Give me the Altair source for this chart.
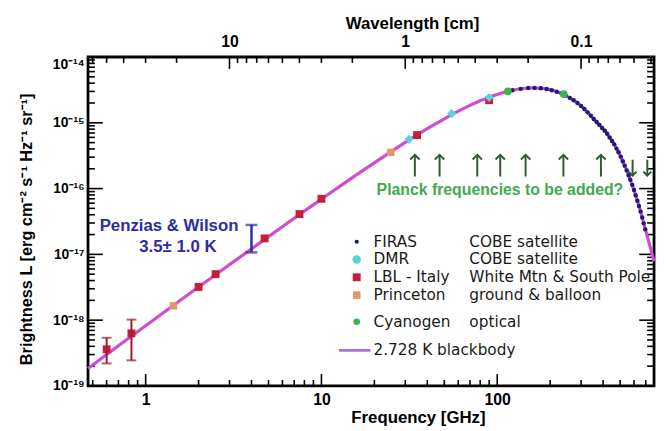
import json
import altair as alt
import pandas as pd

# ---------------- values ----------------
# 2.728 K blackbody curve (frequency in GHz, brightness L)
bb_freq = [0.47, 0.6, 0.8, 1, 1.5, 2, 3, 5, 7, 10,
           15, 20, 30, 40, 50, 60, 70, 80, 90, 100,
           110, 120, 140, 160, 180, 200, 225, 250, 275, 300,
           325, 350, 375, 400, 425, 450, 475, 500, 525, 550,
           575, 600, 625, 650, 675, 700, 725, 750, 780]
bb_L = [1.84e-19, 3.0e-19, 5.3e-19, 8.2e-19, 1.82e-18, 3.19e-18, 6.98e-18, 1.86e-17, 3.55e-17, 6.9e-17,
        1.47e-16, 2.46e-16, 5.04e-16, 8.13e-16, 1.15e-15, 1.50e-15, 1.84e-15, 2.16e-15, 2.45e-15, 2.70e-15,
        2.91e-15, 3.09e-15, 3.32e-15, 3.39e-15, 3.33e-15, 3.17e-15, 2.88e-15, 2.53e-15, 2.16e-15, 1.80e-15,
        1.47e-15, 1.18e-15, 9.75e-16, 8.1e-16, 6.65e-16, 5.3e-16, 4.15e-16, 3.2e-16, 2.39e-16, 1.77e-16,
        1.3e-16, 9.5e-17, 6.7e-17, 4.75e-17, 3.25e-17, 2.27e-17, 1.62e-17, 1.16e-17, 7.8e-18]

# FIRAS (COBE satellite)
firas_freq = [122, 136, 150, 163, 177, 191, 204, 218, 232, 245,
              259, 272, 286, 300, 313, 327, 341, 354, 368, 381,
              395, 409, 422, 436, 450, 463, 477, 490, 504, 518,
              531, 545, 559, 572, 586, 600, 613, 627, 640, 654,
              668, 681, 695]
firas_L = [3.12e-15, 3.28e-15, 3.37e-15, 3.39e-15, 3.34e-15, 3.26e-15, 3.13e-15, 2.97e-15, 2.78e-15, 2.60e-15,
           2.39e-15, 2.20e-15, 2.00e-15, 1.80e-15, 1.62e-15, 1.44e-15, 1.28e-15, 1.14e-15, 1.03e-15, 9.3e-16,
           8.35e-16, 7.6e-16, 6.8e-16, 6.0e-16, 5.3e-16, 4.7e-16, 4.05e-16, 3.57e-16, 3.06e-16, 2.6e-16,
           2.23e-16, 1.89e-16, 1.59e-16, 1.36e-16, 1.14e-16, 9.5e-17, 7.9e-17, 6.55e-17, 5.45e-17, 4.5e-17,
           3.64e-17, 2.96e-17, 2.4e-17]

# DMR (COBE satellite)
dmr_freq = [31.5, 55, 90]
dmr_L = [5.6e-16, 1.38e-15, 2.42e-15]

# LBL - Italy (White Mtn & South Pole)
lbl_freq = [0.6, 0.83, 2.0, 2.5, 4.75, 7.5, 10.0, 35, 90]
lbl_L = [3.6e-19, 6.3e-19, 3.2e-18, 5.0e-18, 1.75e-17, 4.1e-17, 7.0e-17, 6.5e-16, 2.2e-15]
lbl_err_freq = [0.6, 0.83]
lbl_err_lo = [2.2e-19, 2.45e-19]
lbl_err_hi = [5.4e-19, 1.02e-18]

# Princeton (ground & balloon)
princeton_freq = [1.44, 24.8]
princeton_L = [1.65e-18, 3.55e-16]

# Cyanogen (optical)
cyanogen_freq = [115, 239]
cyanogen_L = [3.0e-15, 2.72e-15]

# Penzias & Wilson
pw_freq = [4.0]
pw_lo = [1.07e-17]
pw_hi = [2.8e-17]

# Planck frequencies to be added (arrows)
planck_up = [34, 47, 77, 104, 145, 238, 389]
planck_down = [589, 714]

# axis ticks and labels
x_tick_values = [1, 10, 100]
x_tick_labels = ["1", "10", "100"]
x_minor = [0.5, 0.6, 0.7, 0.8, 0.9, 2, 3, 4, 5, 6, 7, 8, 9,
           20, 30, 40, 50, 60, 70, 80, 90, 200, 300, 400, 500, 600, 700]
wl_tick_values = [10, 1, 0.1]          # wavelength, cm
wl_tick_labels = ["10", "1", "0.1"]
wl_minor = [60, 50, 40, 30, 20, 9, 8, 7, 6, 5, 4, 3, 2,
            0.9, 0.8, 0.7, 0.6, 0.5, 0.4, 0.3, 0.2,
            0.09, 0.08, 0.07, 0.06, 0.05, 0.04]
y_tick_values = [1e-19, 1e-18, 1e-17, 1e-16, 1e-15, 1e-14]
y_tick_labels = ["10⁻¹⁹", "10⁻¹⁸", "10⁻¹⁷", "10⁻¹⁶", "10⁻¹⁵", "10⁻¹⁴"]
y_minor = [m * 10.0 ** k for k in range(-19, -14) for m in range(2, 10)]
C_CM_GHZ = 29.98  # wavelength[cm] * frequency[GHz]

legend_names = ["FIRAS", "DMR", "LBL - Italy", "Princeton", "Cyanogen", "2.728 K blackbody"]
legend_descs = ["COBE satellite", "COBE satellite", "White Mtn & South Pole", "ground & balloon", "optical", ""]

# ---------------- layout / style ----------------
W, H = 573, 333
FONT = "Liberation Sans"
LEG_FONT = "DejaVu Sans"
NAVY, CYAN, RED, ORANGE, GREEN = "#1c1c78", "#5ad2dc", "#c41e3a", "#e59466", "#3cb44b"
CURVE, LEG_LINE = "#d04cd0", "#b070d8"
ERR_RED, PW_BLUE = "#9b1c2c", "#2d2d9e"
ARROW, PLANCK_TXT = "#2f5a38", "#45a852"
MAJ, MIN = 12, 6
leg_sym_x, leg_txt1_x, leg_txt2_x = 272, 289, 386
leg_rows_y = [187, 205, 223, 241, 268, 297]

xs = alt.Scale(type="log", domain=[0.47, 780], nice=False)
ys = alt.Scale(type="log", domain=[1e-19, 1e-14], nice=False)


def df(**cols):
    return pd.DataFrame(cols)


def X(axis=None):
    return alt.X("nu:Q", scale=xs, axis=axis)


def Y(axis=None):
    return alt.Y("L:Q", scale=ys, axis=axis)


layers = []

# ---- axes carried by tick layers ----
bottom_axis = alt.Axis(
    orient="bottom", values=x_tick_values,
    labelExpr=json.dumps(x_tick_labels) + "[round(log(datum.value)/LN10)]",
    ticks=False, tickSize=0, domain=False, grid=False, labelFlush=False,
    labelFont=FONT, labelFontSize=16, labelFontWeight="bold", labelColor="black", labelPadding=6,
    title="Frequency [GHz]", titleFont=FONT, titleFontSize=17, titleFontWeight="bold",
    titleColor="black", titleX=334, titleY=32, titleAlign="center", titleBaseline="middle")
top_axis = alt.Axis(
    orient="top", values=[C_CM_GHZ / w for w in wl_tick_values],
    labelExpr=json.dumps(wl_tick_labels) + "[round(log(datum.value/%g)/LN10)]" % (C_CM_GHZ / wl_tick_values[0]),
    ticks=False, tickSize=0, domain=False, grid=False, labelFlush=False,
    labelFont=FONT, labelFontSize=16, labelFontWeight="bold", labelColor="black", labelPadding=8,
    title="Wavelength [cm]", titleFont=FONT, titleFontSize=17, titleFontWeight="bold",
    titleColor="black", titleX=328, titleY=-34, titleAlign="center", titleBaseline="middle")
left_axis = alt.Axis(
    orient="left", values=y_tick_values,
    labelExpr=json.dumps(y_tick_labels, ensure_ascii=False) + "[round(log(datum.value)/LN10)+19]",
    ticks=False, tickSize=0, domain=False, grid=False, labelFlush=False,
    labelOffset={"condition": {"test": "datum.value > 5e-15", "value": 8}, "value": 0},
    labelFont=FONT, labelFontSize=14, labelFontWeight="bold", labelColor="black", labelPadding=4,
    title="Brightness L [erg cm⁻² s⁻¹ Hz⁻¹ sr⁻¹]", titleFont=FONT, titleFontSize=16.5,
    titleFontWeight="bold", titleColor="black", titleX=-62, titleY=174, titleAngle=270,
    titleAlign="center", titleBaseline="middle")

tick_style = dict(color="black", strokeWidth=1.6)
layers.append(alt.Chart(df(nu=x_tick_values)).mark_rule(**tick_style).encode(
    x=X(bottom_axis), y=alt.value(H), y2=alt.value(H - MAJ)))
layers.append(alt.Chart(df(nu=x_minor)).mark_rule(**tick_style).encode(
    x=X(), y=alt.value(H), y2=alt.value(H - MIN)))
layers.append(alt.Chart(df(wl=wl_tick_values)).transform_calculate(
    nu="%g / datum.wl" % C_CM_GHZ).mark_rule(**tick_style).encode(
    x=X(top_axis), y=alt.value(0), y2=alt.value(MAJ)))
layers.append(alt.Chart(df(wl=wl_minor)).transform_calculate(
    nu="%g / datum.wl" % C_CM_GHZ).mark_rule(**tick_style).encode(
    x=X(), y=alt.value(0), y2=alt.value(MIN)))
layers.append(alt.Chart(df(L=y_tick_values)).mark_rule(**tick_style).encode(
    y=Y(left_axis), x=alt.value(0), x2=alt.value(MAJ + 3)))
layers.append(alt.Chart(df(L=y_minor)).mark_rule(**tick_style).encode(
    y=Y(), x=alt.value(0), x2=alt.value(MIN + 1)))
layers.append(alt.Chart(df(L=y_tick_values)).mark_rule(**tick_style).encode(
    y=Y(), x=alt.value(W), x2=alt.value(W - MAJ - 3)))
layers.append(alt.Chart(df(L=y_minor)).mark_rule(**tick_style).encode(
    y=Y(), x=alt.value(W), x2=alt.value(W - MIN - 1)))

# ---- blackbody curve ----
layers.append(alt.Chart(df(nu=bb_freq, L=bb_L)).mark_line(
    color=CURVE, strokeWidth=3.2, interpolate="monotone").encode(x=X(), y=Y()))

# ---- measurements ----
layers.append(alt.Chart(df(nu=firas_freq, L=firas_L)).mark_circle(
    color=NAVY, size=20, opacity=1).encode(x=X(), y=Y()))
layers.append(alt.Chart(df(nu=cyanogen_freq, L=cyanogen_L)).mark_circle(
    color=GREEN, size=60, opacity=1).encode(x=X(), y=Y()))
layers.append(alt.Chart(df(nu=princeton_freq, L=princeton_L)).mark_square(
    color=ORANGE, size=55, opacity=1).encode(x=X(), y=Y()))
layers.append(alt.Chart(df(nu=lbl_freq, L=lbl_L)).mark_square(
    color=RED, size=64, opacity=1).encode(x=X(), y=Y()))
layers.append(alt.Chart(df(nu=dmr_freq, L=dmr_L)).mark_point(
    shape="diamond", filled=True, color=CYAN, size=85, opacity=1).encode(x=X(), y=Y()))

# error bars
err = df(nu=lbl_err_freq, L=lbl_err_lo, L2=lbl_err_hi)
layers.append(alt.Chart(err).mark_rule(color=ERR_RED, strokeWidth=2).encode(
    x=X(), y=Y(), y2="L2:Q"))
layers.append(alt.Chart(err).mark_tick(color=ERR_RED, orient="horizontal", size=10, thickness=2).encode(
    x=X(), y=Y()))
layers.append(alt.Chart(err).mark_tick(color=ERR_RED, orient="horizontal", size=10, thickness=2).encode(
    x=X(), y=alt.Y("L2:Q", scale=ys, axis=None)))
pw = df(nu=pw_freq, L=pw_lo, L2=pw_hi)
layers.append(alt.Chart(pw).mark_rule(color=PW_BLUE, strokeWidth=2.5).encode(
    x=X(), y=Y(), y2="L2:Q"))
layers.append(alt.Chart(pw).mark_tick(color=PW_BLUE, orient="horizontal", size=12, thickness=2.5).encode(
    x=X(), y=Y()))
layers.append(alt.Chart(pw).mark_tick(color=PW_BLUE, orient="horizontal", size=12, thickness=2.5).encode(
    x=X(), y=alt.Y("L2:Q", scale=ys, axis=None)))

# ---- Planck arrows ----
layers.append(alt.Chart(df(nu=planck_up)).mark_rule(color=ARROW, strokeWidth=2).encode(
    x=X(), y=alt.value(99), y2=alt.value(121)))
layers.append(alt.Chart(df(nu=planck_up)).mark_point(
    shape="M-1,1L0,0L1,1", filled=False, color=ARROW, strokeWidth=2, size=90, opacity=1).encode(
    x=X(), y=alt.value(99)))
layers.append(alt.Chart(df(nu=planck_down)).mark_rule(color=ARROW, strokeWidth=2).encode(
    x=X(), y=alt.value(104), y2=alt.value(120)))
layers.append(alt.Chart(df(nu=planck_down)).mark_point(
    shape="M-1,-1L0,0L1,-1", filled=False, color=ARROW, strokeWidth=2, size=64, opacity=1).encode(
    x=X(), y=alt.value(120)))


def text(t, x, y, color="black", size=16, weight="bold", align="left", font=FONT):
    return alt.Chart(df(t=[t])).mark_text(
        font=font, fontSize=size, fontWeight=weight, color=color, align=align, baseline="middle"
    ).encode(text="t:N", x=alt.value(x), y=alt.value(y))


layers.append(text("Planck frequencies to be added?", 417, 135, PLANCK_TXT, 16, "bold", "center"))
layers.append(text("Penzias & Wilson", 82, 171, PW_BLUE, 17, "bold", "center"))
layers.append(text("3.5± 1.0 K", 91, 192, PW_BLUE, 17, "bold", "center"))

# ---- legend ----
sym = [
    alt.Chart(df(a=[0])).mark_circle(color=NAVY, size=18, opacity=1),
    alt.Chart(df(a=[0])).mark_circle(color=CYAN, size=75, opacity=1),
    alt.Chart(df(a=[0])).mark_square(color=RED, size=64, opacity=1),
    alt.Chart(df(a=[0])).mark_square(color=ORANGE, size=58, opacity=1),
    alt.Chart(df(a=[0])).mark_circle(color=GREEN, size=45, opacity=1),
]
for s, yy in zip(sym, leg_rows_y[:5]):
    layers.append(s.encode(x=alt.value(leg_sym_x), y=alt.value(yy)))
layers.append(alt.Chart(df(a=[0])).mark_rule(color=LEG_LINE, strokeWidth=3).encode(
    x=alt.value(leg_sym_x - 18), x2=alt.value(leg_sym_x + 14), y=alt.value(leg_rows_y[5])))
for name, desc, yy in zip(legend_names, legend_descs, leg_rows_y):
    layers.append(text(name, leg_txt1_x, yy, "#1a1a1a", 15.5, "normal", font=LEG_FONT))
    if desc:
        layers.append(text(desc, leg_txt2_x, yy, "#1a1a1a", 15.5, "normal", font=LEG_FONT))

chart = alt.layer(*layers).resolve_axis(x="independent", y="independent").properties(
    width=W, height=H, autosize="none",
    padding={"left": 81, "top": 47, "right": 4, "bottom": 43},
    background="white",
).configure_view(stroke="black", strokeWidth=2.8)

chart.save("out.html", embed_options={"renderer": "svg", "actions": False})
